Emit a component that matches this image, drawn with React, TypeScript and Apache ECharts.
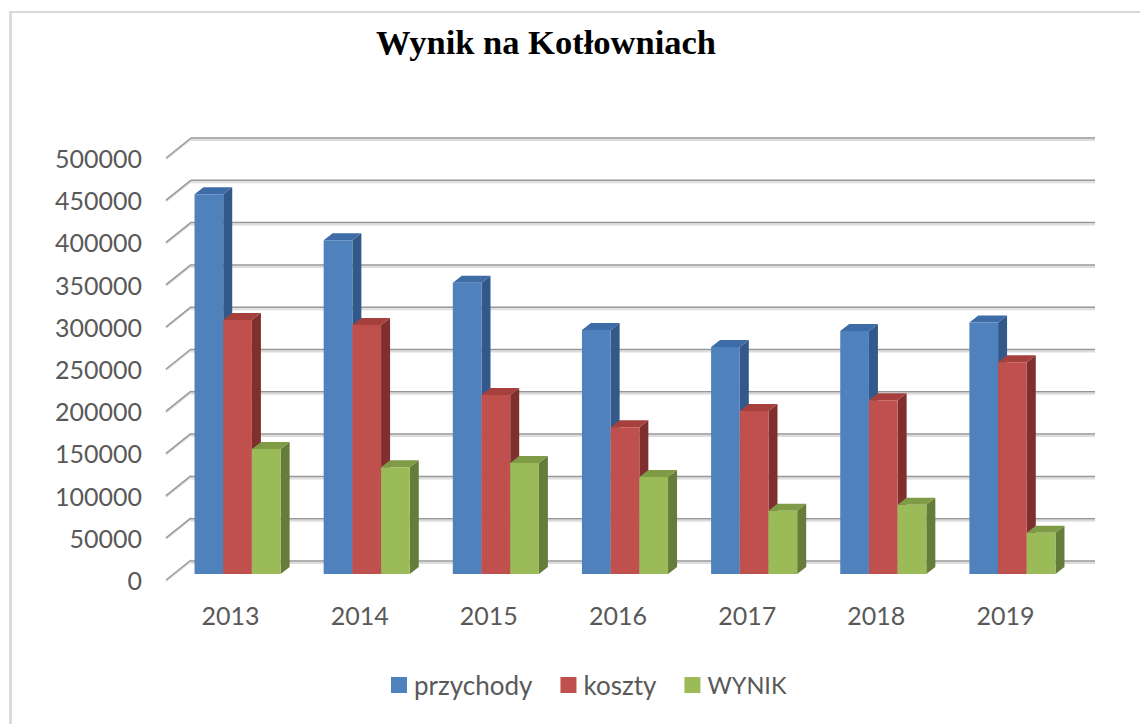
import React, { useEffect, useRef } from "react";
import * as echarts from "echarts";

const years = ["2013", "2014", "2015", "2016", "2017", "2018", "2019"];
const przychody = [450000, 395500, 345000, 289000, 269000, 288000, 298000];
const koszty = [301000, 295000, 212000, 174000, 193000, 206000, 251000];
const wynik = [148000, 126500, 131500, 115000, 75000, 82000, 49000];
const seriesNames = ["przychody", "koszty", "WYNIK"];
const faceColors = ["#4f81bd", "#c0504d", "#9bbb59"];
const topColors = ["#3d6ca6", "#a5403d", "#7f9b45"];
const sideColors = ["#33598a", "#7f2f2d", "#667c3a"];
const wallTicks = [0, 50000, 100000, 150000, 200000, 250000, 300000, 350000, 400000, 450000, 500000];

const FONT = "Lato, 'Open Sans', sans-serif";
const DEPTH_X = 25, DEPTH_Y = -20;
const BAR_DX = 7, BAR_DY = -6;
const SIDE_X = 9, SIDE_Y = -7;

function barItem(seriesIndex: number) {
  return (params: any, api: any) => {
    const i = api.value(0);
    const v = api.value(1);
    const band = api.size([1, 0])[0];
    const w = band / 4.5;
    const base = api.coord([i, 0]);
    const top = api.coord([i, v]);
    const x0 = base[0] - 1.5 * w + seriesIndex * w + BAR_DX;
    const x1 = x0 + w;
    const y0 = base[1] + BAR_DY;
    const y1 = top[1] + BAR_DY;
    return {
      type: "group",
      children: [
        { type: "polygon", shape: { points: [[x1, y0], [x1 + SIDE_X, y0 + SIDE_Y], [x1 + SIDE_X, y1 + SIDE_Y], [x1, y1]] }, style: { fill: sideColors[seriesIndex] } },
        { type: "polygon", shape: { points: [[x0, y1], [x0 + SIDE_X, y1 + SIDE_Y], [x1 + SIDE_X, y1 + SIDE_Y], [x1, y1]] }, style: { fill: topColors[seriesIndex] } },
        { type: "rect", shape: { x: x0, y: y1, width: w, height: y0 - y1 }, style: { fill: faceColors[seriesIndex] } },
      ],
    };
  };
}

function sideWallItem(params: any, api: any) {
  const p = api.coord([0, api.value(0)]);
  const band = api.size([1, 0])[0];
  const x = p[0] - band / 2;
  return {
    type: "group",
    children: [
      { type: "line", shape: { x1: x, y1: p[1] + 1, x2: x + DEPTH_X, y2: p[1] + DEPTH_Y + 1 }, style: { stroke: "#d6d6d6", lineWidth: 2 } },
      { type: "line", shape: { x1: x, y1: p[1], x2: x + DEPTH_X, y2: p[1] + DEPTH_Y }, style: { stroke: "#9a9a9a", lineWidth: 1.5 } },
    ],
  };
}

function backWallItem(params: any, api: any) {
  const p = api.coord([0, api.value(0)]);
  const band = api.size([1, 0])[0];
  const x1 = p[0] - band / 2;
  const x2 = x1 + band * years.length;
  return {
    type: "group",
    children: [
      { type: "line", shape: { x1, y1: p[1] + 2, x2, y2: p[1] + 2 }, style: { stroke: "#dcdcdc", lineWidth: 2 } },
      { type: "line", shape: { x1, y1: p[1], x2, y2: p[1] }, style: { stroke: "#969696", lineWidth: 1.5 } },
    ],
  };
}

export default function App() {
  const ref = useRef<HTMLDivElement>(null);
  useEffect(() => {
    document.body.style.margin = "0";
    const chart = echarts.init(ref.current!, null, { renderer: "svg" });
    const data = [przychody, koszty, wynik];
    chart.setOption({
      animation: false,
      backgroundColor: "#ffffff",
      graphic: [
        { type: "rect", shape: { x: 9, y: 11, width: 1131, height: 2 }, style: { fill: "#d9d9d9" }, silent: true },
        { type: "rect", shape: { x: 9, y: 11, width: 3, height: 713 }, style: { fill: "#dcdcdc" }, silent: true },
      ],
      title: {
        text: "Wynik na Kotłowniach",
        left: 371,
        top: 19,
        textStyle: { fontFamily: "'Liberation Serif', serif", fontWeight: "bold", fontSize: 34.5, color: "#000000" },
      },
      legend: {
        left: 386,
        top: 667,
        icon: "rect",
        itemWidth: 16,
        itemHeight: 16,
        itemGap: 28,
        data: [
          { name: seriesNames[0] },
          { name: seriesNames[1] },
          { name: seriesNames[2], textStyle: { fontSize: 23.5 } },
        ],
        textStyle: { fontFamily: FONT, fontSize: 26, color: "#595959", padding: [0, 0, 0, 2] },
      },
      grid: [
        { left: 166, top: 158, width: 904, height: 422 },
        { left: 191, top: 138, width: 904, height: 423 },
      ],
      xAxis: [
        {
          type: "category",
          gridIndex: 0,
          data: years,
          axisLine: { show: false },
          axisTick: { show: false },
          axisLabel: { fontFamily: FONT, fontSize: 25, color: "#595959", margin: 22 },
        },
        { type: "category", gridIndex: 1, data: years, axisLine: { show: false }, axisTick: { show: false }, axisLabel: { show: false } },
      ],
      yAxis: [
        {
          type: "value",
          gridIndex: 0,
          min: 0,
          max: 500000,
          interval: 50000,
          axisLine: { show: false },
          axisTick: { show: false },
          splitLine: { show: false },
          axisLabel: { fontFamily: FONT, fontSize: 25, color: "#595959", margin: 24, padding: [0, 0, 9, 0], formatter: (v: number) => String(v) },
        },
        {
          type: "value",
          gridIndex: 1,
          min: 0,
          max: 500000,
          interval: 50000,
          axisLine: { show: false },
          axisTick: { show: false },
          axisLabel: { show: false },
          splitLine: { show: false },
        },
      ],
      series: [
        {
          type: "custom",
          name: "sideWall",
          xAxisIndex: 0,
          yAxisIndex: 0,
          renderItem: sideWallItem,
          encode: { y: 0 },
          data: wallTicks.map((t) => [t]),
          silent: true,
          z: 1,
        },
        {
          type: "custom",
          name: "backWall",
          xAxisIndex: 1,
          yAxisIndex: 1,
          renderItem: backWallItem,
          encode: { y: 0 },
          data: wallTicks.map((t) => [t]),
          silent: true,
          z: 1,
        },
        ...seriesNames.map((name, s) => ({
          type: "custom",
          name,
          xAxisIndex: 0,
          yAxisIndex: 0,
          renderItem: barItem(s),
          itemStyle: { color: faceColors[s] },
          encode: { x: 0, y: 1 },
          data: data[s].map((v, i) => [i, v]),
          z: 3,
        })),
      ],
    });
    return () => chart.dispose();
  }, []);
  return (
    <div style={{ position: "fixed", left: 0, top: 0, width: 1140, height: 724, background: "#fff" }}>
      <div ref={ref} style={{ width: 1140, height: 724 }} />
    </div>
  );
}
